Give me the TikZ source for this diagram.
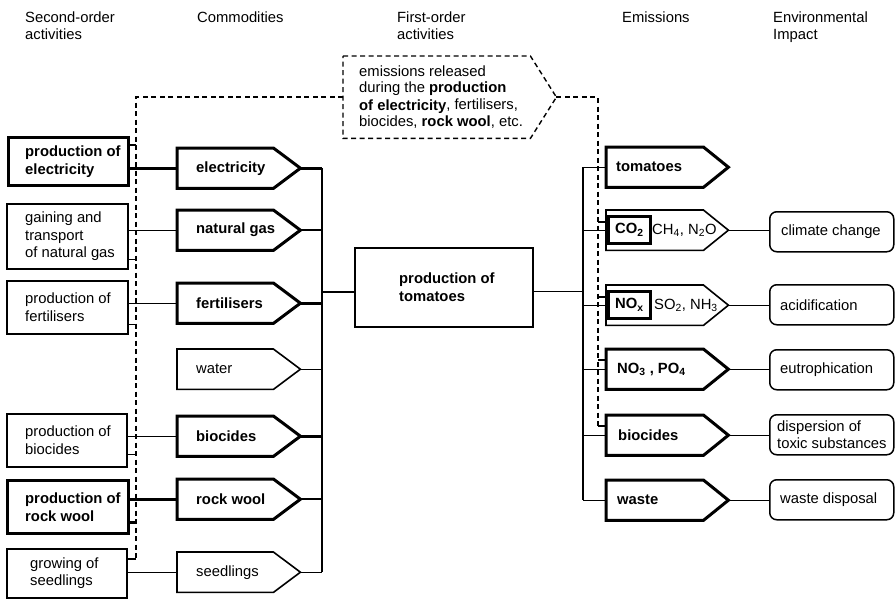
\documentclass[tikz,border=0pt]{standalone}
\usepackage{fontspec}
\setmainfont{Liberation Sans}
\usetikzlibrary{calc}

% box with left-aligned text: name, box style, text style, x, y, width, height, text inset, text
\newcommand\actbox[9]{%
  \node[#2, minimum width=#6, minimum height=#7] (#1) at (#4,#5) {};
  \node[txt, #3] (#1-t) at ([xshift=#8]#1.west) {#9};}

% pentagon pointing right: name, line width, text style, x, y, body width, tip depth, text inset, text
\newcommand\pentbox[9]{%
  \node[inner sep=0, minimum width=#6, minimum height=40, anchor=north west] (#1) at (#4,#5) {};
  \coordinate (#1-tip) at ([xshift=#7]#1.east);
  \draw[line width=#2, line join=miter]
    (#1.north west) -- (#1.north east) -- (#1-tip) -- (#1.south east) -- (#1.south west) -- cycle;
  \node[txt, #3] (#1-t) at ([xshift=#8]#1.west) {#9};}

\begin{document}
\begin{tikzpicture}[x=1pt, y=-1pt,
  every node/.style={font=\fontsize{14.8}{17.5}\selectfont},
  rm/.style={font=\fontsize{14.8}{17.5}\selectfont},
  bf/.style={font=\fontsize{14.8}{17.5}\selectfont\bfseries},
  txt/.style={inner sep=0, align=left, anchor=west},
  hdr/.style={inner sep=0, align=left, anchor=base west},
  thinbox/.style={draw, line width=1.6pt, inner sep=0, anchor=north west},
  thickbox/.style={draw, line width=3.2pt, inner sep=0, anchor=north west},
  impact/.style={draw, line width=1.5pt, rounded corners=7pt, inner sep=0, anchor=north west},
  conn/.style={line width=1.3pt},
  connM/.style={line width=2pt},
  connB/.style={line width=2.7pt},
  tick/.style={line width=1.2pt},
  link/.style={line width=1.4pt, dash pattern=on 5pt off 3.5pt},
]
\useasboundingbox (0,0) rectangle (896,599);

% column headings (multi-line nodes sit on the baseline of their last line)
\node[hdr] (h1) at (25,40) {Second-order\\activities};
\node[hdr] (h2) at (197,22.5) {Commodities};
\node[hdr] (h3) at (397,40) {First-order\\activities};
\node[hdr] (h4) at (622,22.5) {Emissions};
\node[hdr] (h5) at (773,40) {Environmental\\Impact};

% second-order activities
\actbox{s1}{thickbox}{bf}{7}{136}{120}{48}{18}{production of\\electricity}
\actbox{s2}{thinbox}{rm}{6}{203}{121}{65}{19}{gaining and\\transport\\of natural gas}
\actbox{s3}{thinbox}{rm}{6}{280}{121}{53}{19}{production of\\fertilisers}
\actbox{s4}{thinbox}{rm}{6}{413}{120}{53}{19}{production of\\biocides}
\actbox{s5}{thickbox}{bf}{6}{479}{121}{53}{19}{production of\\rock wool}
\actbox{s6}{thinbox}{rm}{6}{548}{120}{49}{24}{growing of\\seedlings}

% commodities
\pentbox{c1}{3pt}{bf}{177}{148}{96}{27}{19}{electricity}
\pentbox{c2}{3pt}{bf}{177}{210}{96}{27}{19}{natural gas}
\pentbox{c3}{3pt}{bf}{177}{283}{96}{27}{19}{fertilisers}
\pentbox{c4}{1.6pt}{rm}{177}{349}{96}{27}{19}{water}
\pentbox{c5}{3pt}{bf}{177}{416}{96}{27}{19}{biocides}
\pentbox{c6}{3pt}{bf}{177}{479}{96}{27}{19}{rock wool}
\pentbox{c7}{1.6pt}{rm}{177}{552}{96}{27}{19}{seedlings}

% first-order activity
\actbox{tom}{thinbox, line width=1.8pt}{bf}{354}{247}{178}{79}{45}{production of\\tomatoes}

% emissions
\pentbox{e1}{3pt}{bf}{606}{147}{97}{25}{10}{tomatoes}
\pentbox{e2}{1.6pt}{rm}{606}{210}{97}{25}{46}{CH\textsubscript{4}, N\textsubscript{2}O}
\node[thickbox, line width=2.6pt, minimum width=42, minimum height=27, bf] (co2) at (607,215) {CO\textsubscript{2}};
\pentbox{e3}{1.6pt}{rm}{606}{285}{97}{25}{48}{SO\textsubscript{2}, NH\textsubscript{3}}
\node[thickbox, line width=2.6pt, minimum width=42, minimum height=27, bf] (nox) at (607,290) {NO\textsubscript{x}};
\pentbox{e4}{3pt}{bf}{606}{349}{97}{25}{11}{NO\textsubscript{3} , PO\textsubscript{4}}
\pentbox{e5}{3pt}{bf}{606}{415}{97}{25}{12}{biocides}
\pentbox{e6}{3pt}{bf}{606}{480}{97}{25}{11}{waste}

% environmental impacts
\actbox{i1}{impact}{rm}{769}{211}{124}{40}{12}{climate change}
\actbox{i2}{impact}{rm}{769}{284}{124}{40}{11}{acidification}
\actbox{i3}{impact}{rm}{769}{349}{124}{40}{11}{eutrophication}
\actbox{i4}{impact}{rm}{769}{414}{124}{40}{8}{dispersion of\\toxic substances}
\actbox{i5}{impact}{rm}{769}{479}{124}{40}{11}{waste disposal}

% callout for indirect emissions
\node[inner sep=0, minimum width=187, minimum height=82, anchor=north west] (co) at (343,56) {};
\coordinate (co-tip) at ([xshift=26]co.east);
\draw[link] (co.north west) -- (co.north east) -- (co-tip) -- (co.south east) -- (co.south west) -- cycle;
\node[hdr, font=\fontsize{14.8}{17}\selectfont] (co-t) at (359,127)
  {emissions released\\during the \textbf{production}\\\textbf{of electricity}, fertilisers,\\biocides, \textbf{rock wool}, etc.};

% bus positions
\coordinate (lb) at (322,0);
\coordinate (rb) at (583,0);
\coordinate (ldx) at (136,0);
\coordinate (rdx) at (598,0);

% second-order activities to commodities
\draw[connB] (c1.west) -- (c1.west -| s1.east);
\draw[conn]  (c2.west) -- (c2.west -| s2.east);
\draw[conn]  (c3.west) -- (c3.west -| s3.east);
\draw[conn]  (c5.west) -- (c5.west -| s4.east);
\draw[connB] (c6.west) -- (c6.west -| s5.east);
\draw[conn]  (c7.west) -- (c7.west -| s6.east);

% commodities into the tomato production
\draw[connB] (c1-tip) -- (c1-tip -| lb);
\draw[connM] (c2-tip) -- (c2-tip -| lb);
\draw[connB] (c3-tip) -- (c3-tip -| lb);
\draw[conn]  (c4-tip) -- (c4-tip -| lb);
\draw[connB] (c5-tip) -- (c5-tip -| lb);
\draw[connM] (c6-tip) -- (c6-tip -| lb);
\draw[conn]  (c7-tip) -- (c7-tip -| lb);
\draw[connM] (c1-tip -| lb) -- (c7-tip -| lb);
\coordinate (tom-in) at ($(tom.west)+(0,5)$);
\draw[connM] (tom-in -| lb) -- (tom-in);

% tomato production to emissions
\coordinate (tom-out) at ($(tom.east)+(0,4)$);
\draw[conn] (tom-out) -- (tom-out -| rb);
\draw[conn] (e1.west -| rb) -- (e6.west -| rb);
\foreach \e in {e1,e2,e3,e4,e5,e6}
  \draw[conn] (\e.west -| rb) -- (\e.west);

% emissions to impacts
\draw[conn] (e2-tip) -- (e2-tip -| i1.west);
\draw[conn] (e3-tip) -- (e3-tip -| i2.west);
\draw[conn] (e4-tip) -- (e4-tip -| i3.west);
\draw[conn] (e5-tip) -- (e5-tip -| i4.west);
\draw[conn] (e6-tip) -- (e6-tip -| i5.west);

% dashed links of the callout
\coordinate (ld-end) at (136,559);
\draw[link] (co.west) -| (ld-end);
\draw[tick] (ld-end) -- (ld-end -| s6.east);
\draw[tick] (s1.north east) ++(0,9) coordinate (t1) -- (t1 -| ldx);
\draw[tick] (s2.south east) ++(0,-10) coordinate (t2) -- (t2 -| ldx);
\draw[tick] (s3.south east) ++(0,-10) coordinate (t3) -- (t3 -| ldx);
\draw[tick] (s4.south east) ++(0,-13) coordinate (t4) -- (t4 -| ldx);
\draw[connB] (s5.south east) ++(0,-13) coordinate (t5) -- (t5 -| ldx);

\coordinate (rd-end) at (598,426);
\draw[link] (co-tip) -| (rd-end);
\draw[tick] (rd-end) -- (rd-end -| e5.west);
\draw[tick] (e2.north west) ++(0,12) coordinate (u1) -- (u1 -| rdx);
\draw[tick] (e3.north west) ++(0,12) coordinate (u2) -- (u2 -| rdx);
\draw[tick] (e4.north west) ++(0,11) coordinate (u3) -- (u3 -| rdx);
\end{tikzpicture}
\end{document}
